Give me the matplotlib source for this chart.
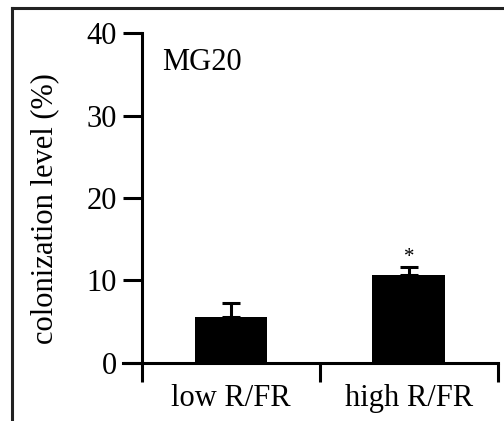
import matplotlib
matplotlib.use("Agg")
import matplotlib.pyplot as plt
from matplotlib.lines import Line2D
import numpy as np

plt.rcParams.update({"font.family": "Liberation Serif", "font.size": 22})

# data
conditions = ["low R/FR", "high R/FR"]
colonization = [5.6, 10.7]
sem = [1.7, 0.9]
significance = ["", "*"]
panel_label = "MG20"

fig = plt.figure(figsize=(5.04, 4.21), dpi=100)
ax = fig.add_axes([0.244, 0.1378, 0.744, 0.7838])

x = np.arange(len(conditions))
ax.bar(x, colonization, width=0.41, color="black", zorder=2)
ax.errorbar(x, colonization, yerr=[np.zeros(len(sem)), sem], fmt="none",
            ecolor="black", elinewidth=2.2, capsize=6.5, capthick=2.2, zorder=1)
for xi, yi, e, s in zip(x, colonization, sem, significance):
    if s:
        ax.text(xi, yi + e, s, ha="center", va="bottom", fontsize=15)

ax.set_xlim(-0.607, 1.5)
ax.set_ylim(0, 40)
ax.set_yticks([0, 10, 20, 30, 40])

# GraphPad style: boundary ticks between groups, labels centred on bars
ax.set_xticks(np.append(x - 0.5, x[-1] + 0.5))
ax.set_xticks(x, minor=True)
ax.set_xticklabels([])
ax.set_xticklabels(conditions, minor=True)
ax.tick_params(axis="x", which="major", direction="out", length=13.5, width=2.2)
ax.tick_params(axis="x", which="minor", length=0, pad=15)
ax.tick_params(axis="y", direction="out", length=14, width=2.2, pad=4)

ax.spines["left"].set_position(("data", -0.5))
for side in ("top", "right"):
    ax.spines[side].set_visible(False)
for side in ("left", "bottom"):
    ax.spines[side].set_linewidth(2.2)

ax.text(0.104, 0.912, panel_label, transform=ax.transAxes, ha="left", va="center")
fig.text(45 / 504, 1 - 209 / 421, "colonization level (%)", rotation=90,
         ha="center", va="center")

# outer frame of the original panel
fig.add_artist(Line2D([0.0238, 1.0], [0.981, 0.981], transform=fig.transFigure,
                      color="#222222", lw=2.2))
fig.add_artist(Line2D([0.0238, 0.0238], [0.0, 0.981], transform=fig.transFigure,
                      color="#222222", lw=2.2))

fig.savefig("out.png", dpi=100)
